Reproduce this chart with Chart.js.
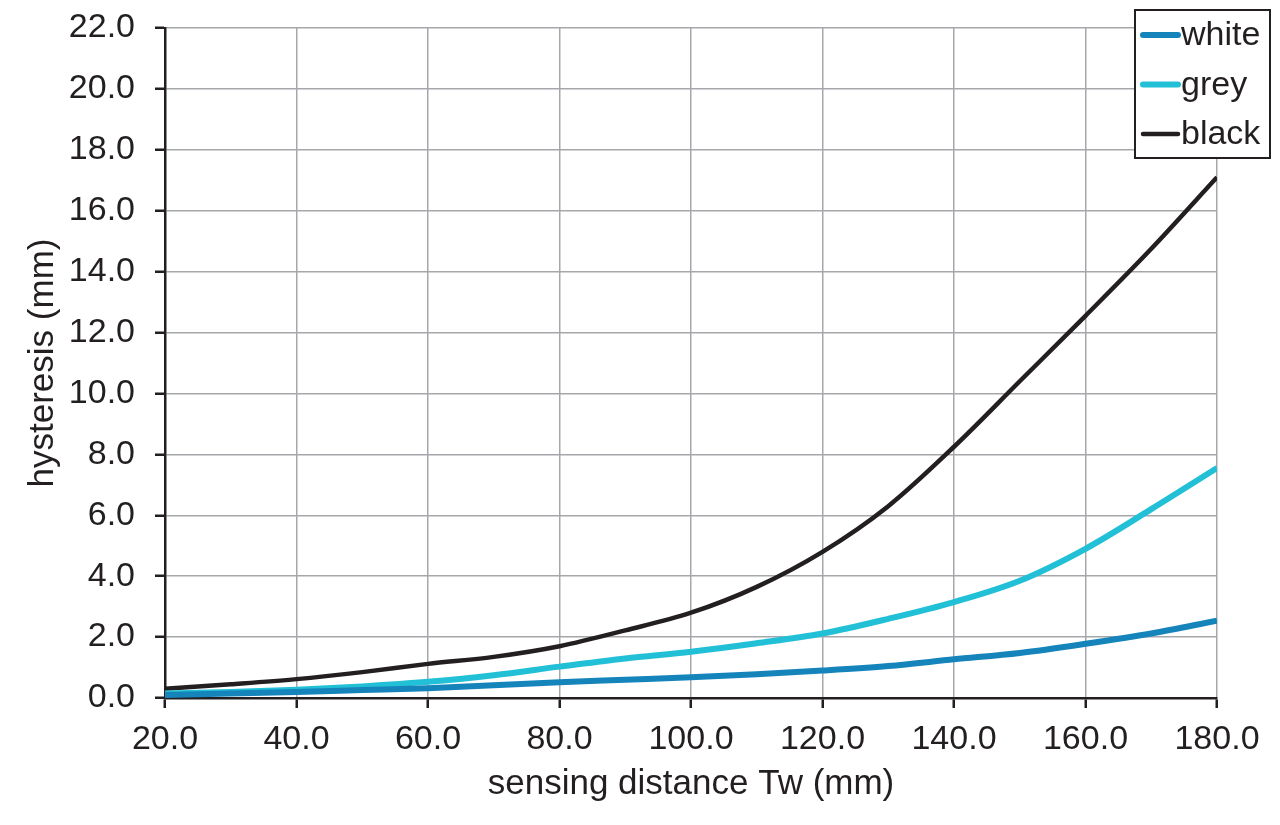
<!DOCTYPE html>
<html>
<head>
<meta charset="utf-8">
<script src="https://cdn.jsdelivr.net/npm/chart.js@4"></script>
<style>
  html, body { margin: 0; padding: 0; background: #ffffff; }
  #wrap { width: 1280px; height: 825px; }
</style>
</head>
<body>
<div id="wrap"><canvas id="line_chart" width="1280" height="825"></canvas></div>
<script>
const distances = [20, 30, 40, 50, 60, 70, 80, 90, 100, 110, 120, 130, 140, 150, 160, 170, 180]

const whiteHysteresis = [0.1, 0.15, 0.2, 0.26, 0.32, 0.42, 0.52, 0.6, 0.68, 0.78, 0.9, 1.05, 1.27, 1.48, 1.78, 2.12, 2.54]
const greyHysteresis = [0.15, 0.2, 0.27, 0.38, 0.53, 0.75, 1.03, 1.3, 1.52, 1.8, 2.12, 2.6, 3.15, 3.85, 4.9, 6.2, 7.55]
const blackHysteresis = [0.3, 0.45, 0.62, 0.85, 1.12, 1.35, 1.7, 2.22, 2.8, 3.65, 4.8, 6.3, 8.25, 10.4, 12.55, 14.75, 17.1]

const xTicks = [20, 40, 60, 80, 100, 120, 140, 160, 180]
const yTicks = [0, 2, 4, 6, 8, 10, 12, 14, 16, 18, 20, 22]

const seriesNames = ["white", "grey", "black"]
const seriesColors = ["#1584bb", "#22c0d6", "#231f20"]
const seriesWidths = [6, 6, 4.5]

const FONT = "'Liberation Sans', Arial, sans-serif"
const AXIS_COLOR = "#231f20"
const GRID_COLOR = "#a5a7aa"

// legend box drawn over the top right corner of the plot
const boxLegend = {
  id: "boxLegend",
  afterDraw(chart) {
    const ctx = chart.ctx
    const right = chart.width - 10
    const top = 10
    const w = 135
    const h = 148
    const left = right - w
    ctx.save()
    ctx.fillStyle = "#ffffff"
    ctx.fillRect(left, top, w, h)
    ctx.strokeStyle = AXIS_COLOR
    ctx.lineWidth = 2
    ctx.strokeRect(left, top, w, h)
    ctx.font = "34px " + FONT
    ctx.textBaseline = "middle"
    ctx.textAlign = "left"
    chart.data.datasets.forEach((ds, i) => {
      const y = top + 25 + i * 49.5
      ctx.beginPath()
      ctx.strokeStyle = ds.borderColor
      ctx.lineWidth = ds.borderWidth
      ctx.lineCap = "round"
      ctx.moveTo(left + 8, y)
      ctx.lineTo(left + 43, y)
      ctx.stroke()
      ctx.fillStyle = AXIS_COLOR
      ctx.fillText(ds.label, left + 46, y + 1)
    })
    ctx.restore()
  },
}

const seriesValues = [whiteHysteresis, greyHysteresis, blackHysteresis]

new Chart(document.getElementById("line_chart"), {
  type: "line",
  plugins: [boxLegend],
  data: {
    datasets: seriesValues.map((values, i) => ({
      label: seriesNames[i],
      data: values.map((v, j) => ({ x: distances[j], y: v })),
      borderColor: seriesColors[i],
      backgroundColor: seriesColors[i],
      borderWidth: seriesWidths[i],
      pointRadius: 0,
      cubicInterpolationMode: "monotone",
      fill: false,
    })),
  },
  options: {
    responsive: false,
    animation: false,
    devicePixelRatio: 1,
    layout: {
      padding: { top: 28, right: 63, left: 0, bottom: 0 },
    },
    plugins: {
      legend: { display: false },
      tooltip: { enabled: false },
    },
    scales: {
      x: {
        type: "linear",
        min: 20,
        max: 180,
        afterBuildTicks: (scale) => {
          scale.ticks = xTicks.map((v) => ({ value: v }))
        },
        afterFit: (scale) => {
          scale.height = 127
        },
        ticks: {
          color: AXIS_COLOR,
          font: { family: FONT, size: 34 },
          padding: 11,
          maxRotation: 0,
          callback: (v) => v.toFixed(1),
        },
        grid: {
          color: GRID_COLOR,
          lineWidth: 1.5,
          tickColor: AXIS_COLOR,
          tickLength: 10,
          tickWidth: 2.5,
        },
        border: { color: AXIS_COLOR, width: 2.5 },
        title: {
          display: true,
          text: "sensing distance Tw (mm)",
          color: AXIS_COLOR,
          font: { family: FONT, size: 35 },
          padding: { top: 0, bottom: 20 },
        },
      },
      y: {
        type: "linear",
        min: 0,
        max: 22,
        afterBuildTicks: (scale) => {
          scale.ticks = yTicks.map((v) => ({ value: v }))
        },
        afterFit: (scale) => {
          scale.width = 165
          scale.paddingTop = 0
          scale.paddingBottom = 0
        },
        ticks: {
          color: AXIS_COLOR,
          font: { family: FONT, size: 34 },
          padding: 20,
          callback: (v) => v.toFixed(1),
        },
        grid: {
          color: GRID_COLOR,
          lineWidth: 1.5,
          tickColor: AXIS_COLOR,
          tickLength: 10,
          tickWidth: 2.5,
        },
        border: { color: AXIS_COLOR, width: 2.5 },
        title: {
          display: true,
          text: "hysteresis (mm)",
          color: AXIS_COLOR,
          font: { family: FONT, size: 35 },
          padding: { top: 22, bottom: 0 },
        },
      },
    },
  },
})
</script>
</body>
</html>
